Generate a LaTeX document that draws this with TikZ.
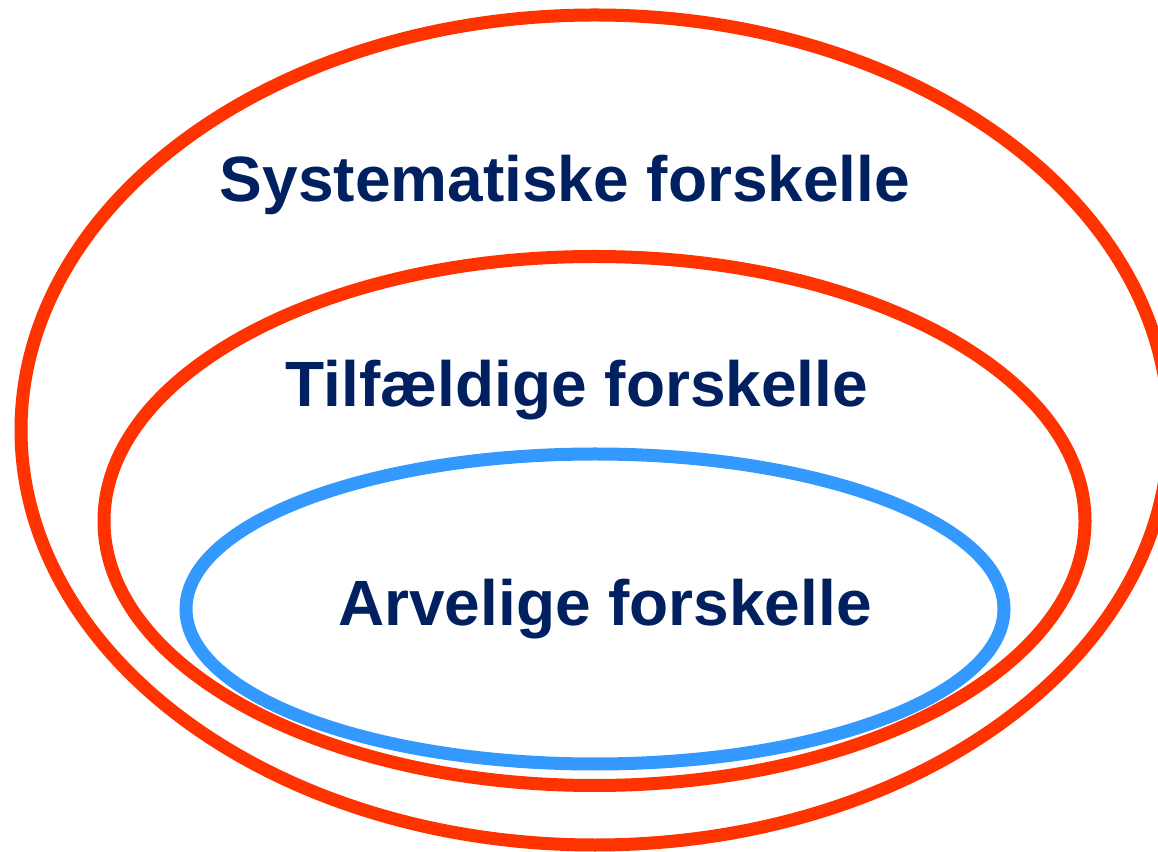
\documentclass[tikz,border=0pt]{standalone}
\usepackage{fontspec}
\setmainfont{Liberation Sans}
\definecolor{ringred}{RGB}{255,51,0}
\definecolor{ringblue}{RGB}{51,153,255}
\definecolor{labelnavy}{RGB}{0,32,96}
\begin{document}
\begin{tikzpicture}[x=1pt,y=1pt,
  ring/.style={line width=13pt},
  lbl/.style={anchor=base,inner sep=0pt,text=labelnavy,font=\fontsize{64}{64}\selectfont\bfseries}]
\useasboundingbox (0,0) rectangle (1158,851);
\clip (0,0) rectangle (1158,851);
\fill[white] (0,0) rectangle (1158,851);
\draw[ring,ringred] (595,421) ellipse [x radius=574, y radius=415];
\draw[ring,ringred] (594.5,330) ellipse [x radius=490.5, y radius=264.5];
\draw[ring,ringblue] (595,242) ellipse [x radius=409, y radius=155];
\node[lbl] (sys) at (565,649) {Systematiske forskelle};
\node[lbl] (til) at (577,444) {Tilfældige forskelle};
\node[lbl] (arv) at (605,225) {Arvelige forskelle};
\end{tikzpicture}
\end{document}
